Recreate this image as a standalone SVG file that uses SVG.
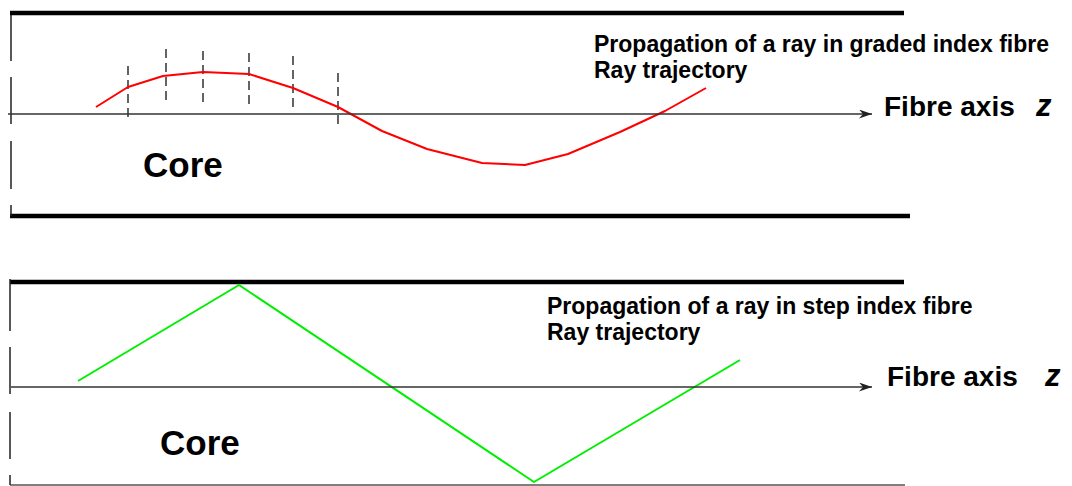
<svg xmlns="http://www.w3.org/2000/svg" width="1072" height="486" viewBox="0 0 1072 486">
  <style>
    .clad { stroke: #000; stroke-width: 4.5; fill: none; }
    .thin { stroke: #555; stroke-width: 1.5; fill: none; }
    .edge { stroke: #222; stroke-width: 1.5; fill: none; }
    .axis { stroke: #333; stroke-width: 1.5; fill: none; }
    .tick { stroke: #111; stroke-width: 1.3; stroke-dasharray: 9 5; fill: none; }
    .ray-red { stroke: #ff0000; stroke-width: 2; fill: none; stroke-linejoin: round; }
    .ray-green { stroke: #00ee00; stroke-width: 2; fill: none; stroke-linejoin: round; }
    .title { font-family: "Liberation Sans", Arial, sans-serif; font-weight: bold; font-size: 23px; fill: #000; }
    .axislbl { font-family: "Liberation Sans", Arial, sans-serif; font-weight: bold; font-size: 28px; fill: #000; }
    .zlbl { font-family: "Liberation Sans", Arial, sans-serif; font-weight: bold; font-style: italic; font-size: 31px; fill: #000; }
    .core { font-family: "Liberation Sans", Arial, sans-serif; font-weight: bold; font-size: 35px; fill: #000; }
  </style>
  <defs>
    <marker id="arr" markerUnits="userSpaceOnUse" markerWidth="14" markerHeight="10" refX="13" refY="4.5" orient="auto">
      <path d="M0,0 L13,4.5 L0,9 L4,4.5 z" fill="#222"/>
    </marker>
  </defs>

  <g id="graded-fibre">
    <line class="clad" x1="10" y1="13" x2="904" y2="13"/>
    <line class="clad" x1="10" y1="216" x2="910" y2="216"/>
    <path class="edge" d="M11,15 V61 M11,77 V124 M11,141 V189 M11,205 V216"/>
    <g id="graded-ticks">
      <line class="tick" x1="128" y1="66" x2="128" y2="119"/>
      <line class="tick" x1="166" y1="49" x2="166" y2="102"/>
      <line class="tick" x1="203" y1="51" x2="203" y2="103"/>
      <line class="tick" x1="249" y1="53" x2="249" y2="106"/>
      <line class="tick" x1="293" y1="56" x2="293" y2="108"/>
      <line class="tick" x1="338" y1="73" x2="338" y2="127"/>
    </g>
    <polyline class="ray-red" points="96,107 128,87 163,76 203,72 249,74 293,88 338,107 382,131 427,149 482,163 525,165 568,154 620,132 665,111 706,88"/>
    <text class="title" x="594" y="52">Propagation of a ray in graded index fibre</text>
    <text class="title" x="594" y="78">Ray trajectory</text>
    <text class="axislbl" x="884" y="116">Fibre axis</text>
    <text class="zlbl" x="1036" y="116">z</text>
    <text class="core" x="143" y="177">Core</text>
  </g>

  <g id="step-fibre">
    <line class="clad" x1="10" y1="282" x2="904" y2="282"/>
    <line class="thin" x1="10" y1="485" x2="905" y2="485"/>
    <path class="edge" d="M10,279 V331 M10,347 V394 M10,412 V459 M10,475 V485"/>
    <polyline class="ray-green" points="78,381 239,285 534,482 740,360"/>
    <text class="title" x="547" y="314">Propagation of a ray in step index fibre</text>
    <text class="title" x="547" y="340">Ray trajectory</text>
    <text class="axislbl" x="887" y="386">Fibre axis</text>
    <text class="zlbl" x="1045" y="386">z</text>
    <text class="core" x="160" y="455">Core</text>
  </g>

  <g id="connectors">
    <line class="axis" x1="8" y1="114" x2="872" y2="114" marker-end="url(#arr)"/>
    <line class="axis" x1="11" y1="387" x2="872" y2="387" marker-end="url(#arr)"/>
  </g>
</svg>
